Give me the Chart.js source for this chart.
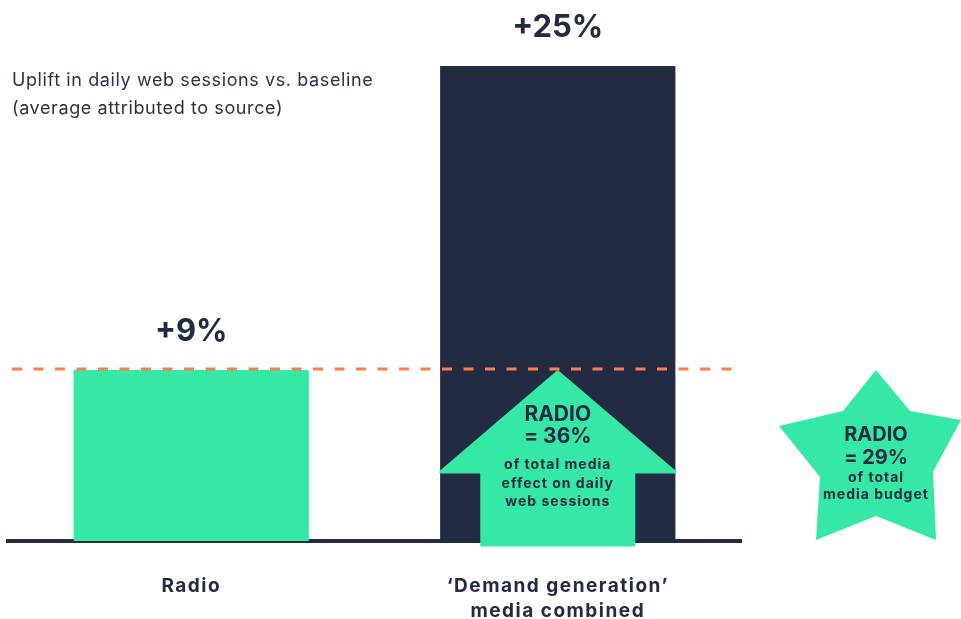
<!DOCTYPE html>
<html>
<head>
<meta charset="utf-8">
<script src="https://cdn.jsdelivr.net/npm/chart.js@4.4.1/dist/chart.umd.min.js"></script>
<style>
  html, body { margin: 0; padding: 0; background: #ffffff; }
  #wrap { width: 961px; height: 619px; position: relative; }
</style>
</head>
<body>
<div id="wrap"><canvas id="uplift-chart"></canvas></div>
<script>
// data
const categories = ['Radio', ['‘Demand generation’', 'media combined']];
const upliftValues = [9, 25];
const titleLines = ['Uplift in daily web sessions vs. baseline', '(average attributed to source)'];
const radioEffectShare = 36;
const radioBudgetShare = 29;
const effectNote = ['of total media', 'effect on daily', 'web sessions'];
const budgetNote = ['of total', 'media budget'];

const GREEN = '#36E8A6';
const NAVY = '#222B42';
const ORANGE = '#FF7D4D';
const FONT = 'Inter, "DejaVu Sans", sans-serif';

function font(size, weight) {
    return (weight || 'normal') + ' ' + size + 'px ' + FONT;
}

// the brand font runs wide, so every label gets a little tracking
const tracking = {
    id: 'tracking',
    beforeDraw(chart) {
        chart.ctx.letterSpacing = '1.5px';
    }
};

// title, value labels, reference line, arrow and star
const decorations = {
    id: 'decorations',
    afterDatasetsDraw(chart) {
        const ctx = chart.ctx;
        const area = chart.chartArea;
        const yScale = chart.scales.y;
        const bars = chart.getDatasetMeta(0).data;
        const radioTop = yScale.getPixelForValue(upliftValues[0]);
        const zero = yScale.getPixelForValue(0);

        ctx.save();

        // title
        ctx.letterSpacing = '0.6px';
        ctx.fillStyle = '#2B3247';
        ctx.font = font(18, '400');
        ctx.textAlign = 'left';
        ctx.textBaseline = 'middle';
        ctx.fillText(titleLines[0], 12, 81);
        ctx.fillText(titleLines[1], 12, 109);

        // value labels above the bars
        ctx.letterSpacing = '0px';
        ctx.fillStyle = NAVY;
        ctx.font = font(31, 'bold');
        ctx.textAlign = 'center';
        bars.forEach((bar, i) => {
            ctx.fillText('+' + upliftValues[i] + '%', bar.x, bar.y - 38);
        });

        // dashed line at the radio level
        ctx.strokeStyle = ORANGE;
        ctx.lineWidth = 3;
        ctx.setLineDash([10, 11.5]);
        ctx.beginPath();
        ctx.moveTo(12, radioTop - 1);
        ctx.lineTo(area.right, radioTop - 1);
        ctx.stroke();
        ctx.setLineDash([]);

        // arrow inside the demand generation bar
        const cx = bars[1].x;
        const headY = zero - 69;
        ctx.fillStyle = GREEN;
        ctx.strokeStyle = GREEN;
        ctx.lineWidth = 3;
        ctx.lineJoin = 'round';
        ctx.beginPath();
        ctx.moveTo(cx, radioTop + 2);
        ctx.lineTo(cx + 117, headY);
        ctx.lineTo(cx + 76, headY);
        ctx.lineTo(cx + 76, zero + 4);
        ctx.lineTo(cx - 76, zero + 4);
        ctx.lineTo(cx - 76, headY);
        ctx.lineTo(cx - 117, headY);
        ctx.closePath();
        ctx.fill();
        ctx.stroke();

        ctx.fillStyle = NAVY;
        ctx.font = font(21, 'bold');
        ctx.fillText('RADIO', cx, 415);
        ctx.fillText('= ' + radioEffectShare + '%', cx, 437);
        ctx.letterSpacing = '1px';
        ctx.font = font(14, 'bold');
        effectNote.forEach((line, i) => ctx.fillText(line, cx, 465 + i * 18.5));
        ctx.letterSpacing = '0px';

        // star to the right of the plot
        const sx = area.right + 135;
        const pts = [
            [0, radioTop], [34, 411], [85, 420], [57, 472],
            [60, zero - 1], [0, 516], [-60, zero - 1],
            [-56, 477], [-97, 426], [-33, 411]
        ];
        ctx.fillStyle = GREEN;
        ctx.beginPath();
        pts.forEach((p, i) => {
            if (i === 0) ctx.moveTo(sx + p[0], p[1]); else ctx.lineTo(sx + p[0], p[1]);
        });
        ctx.closePath();
        ctx.fill();

        ctx.fillStyle = NAVY;
        ctx.font = font(20, 'bold');
        ctx.fillText('RADIO', sx, 435);
        ctx.fillText('= ' + radioBudgetShare + '%', sx, 458);
        ctx.letterSpacing = '1px';
        ctx.font = font(14, 'bold');
        ctx.fillText(budgetNote[0], sx, 478);
        ctx.fillText(budgetNote[1], sx, 495);

        ctx.restore();
    }
};

new Chart(document.getElementById('uplift-chart'), {
    type: 'bar',
    data: {
        labels: categories,
        datasets: [{
            data: upliftValues,
            backgroundColor: [GREEN, NAVY],
            borderWidth: 0,
            categoryPercentage: 1,
            barPercentage: 0.642
        }]
    },
    options: {
        responsive: true,
        maintainAspectRatio: false,
        animation: false,
        layout: { padding: { left: 8, right: 220, top: 9, bottom: 0 } },
        plugins: {
            legend: { display: false },
            tooltip: { enabled: false }
        },
        scales: {
            x: {
                z: 1,
                grid: { display: false, drawTicks: false },
                border: { display: true, color: NAVY, width: 4 },
                ticks: {
                    color: NAVY,
                    font: { family: FONT, size: 19, weight: 'bold', lineHeight: 1.32 },
                    padding: 33,
                    maxRotation: 0
                },
                afterFit(scale) {
                    scale.height = 78;
                }
            },
            y: {
                display: false,
                min: 0,
                max: 28
            }
        }
    },
    plugins: [tracking, decorations]
});
</script>
</body>
</html>
